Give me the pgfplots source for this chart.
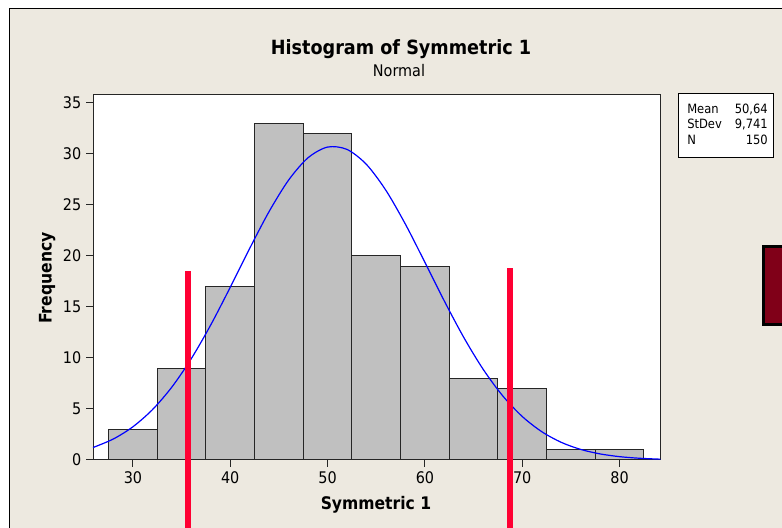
\documentclass[border=0pt]{standalone}
\usepackage{pgfplots}
\pgfplotsset{compat=1.18}
\usepackage{fontspec}
\setmainfont{DejaVu Sans Condensed}
\definecolor{bgbeige}{RGB}{237,233,224}
\definecolor{barfill}{RGB}{192,192,192}
\definecolor{redline}{RGB}{255,0,51}
\definecolor{darkred}{RGB}{128,0,24}
\begin{document}
\begin{tikzpicture}[x=0.75pt,y=0.75pt]
\useasboundingbox (0,0) rectangle (782,528);
\fill[white] (0,0) rectangle (782,528);
\fill[bgbeige] (9,0) rectangle (782,519);
\draw[line width=0.75pt] (9,-2) -- (9,519) -- (784,519);
\begin{axis}[
  at={(69.75pt,51pt)}, anchor=south west,
  scale only axis, width=425.6pt, height=273.75pt,
  xmin=25.9, xmax=84.2, ymin=0, ymax=35.75,
  xtick={30,40,50,60,70,80}, ytick={0,5,10,15,20,25,30,35},
  tick align=outside, xtick pos=bottom, ytick pos=left,
  major tick length=5.25pt,
  axis line style={line width=0.75pt, draw=black!85},
  every tick/.style={line width=0.75pt, black!85},
  axis background/.style={fill=white},
  clip=false,
  ticklabel style={font=\fontsize{12}{14}\selectfont},
  /pgf/number format/assume math mode=true,
]
\addplot[ybar interval, fill=barfill, draw=black!85, line width=0.75pt] coordinates {
(27.5,3) (32.5,9) (37.5,17) (42.5,33) (47.5,32) (52.5,20) (57.5,19) (62.5,8) (67.5,7) (72.5,1) (77.5,1) (82.5,1)};
\addplot[blue, line width=0.9pt, smooth, mark=none] coordinates {
(25.9,1.220) (28,2.062) (30,3.254) (32,4.923) (34,7.140) (36,9.928) (38,13.235) (40,16.916) (42,20.727) (44,24.348) (46,27.421) (48,29.608) (50,30.650) (52,30.418) (54,28.942) (56,26.401) (58,23.089) (60,19.359) (62,15.561) (64,11.992) (66,8.860) (68,6.276) (70,4.262) (72,2.775) (74,1.732) (76,1.037) (78,0.595) (80,0.327) (82,0.173) (84.2,0.080)};
\addplot[redline, line width=4.5pt, mark=none] coordinates {(35.63,18.5) (35.63,-6.8)};
\addplot[redline, line width=4.5pt, mark=none] coordinates {(68.76,18.8) (68.76,-6.8)};
\end{axis}
\node[anchor=base, font=\bfseries\fontsize{14.7}{17}\selectfont] at (401,473) {Histogram of Symmetric 1};
\node[anchor=base, font=\fontsize{12}{14}\selectfont] at (399,451.3) {Normal};
\node[anchor=base, font=\bfseries\fontsize{13}{15}\selectfont] at (376,18.7) {Symmetric 1};
\node[anchor=base, rotate=90, font=\bfseries\fontsize{13}{15}\selectfont] at (51.5,250) {Frequency};
\draw[line width=0.75pt, fill=white] (678.3,370.3) rectangle (773.3,434);
\begin{scope}[every node/.style={font=\fontsize{9.6}{11}\selectfont, inner sep=0pt}]
\node[anchor=base west] at (687,414.7) {Mean};
\node[anchor=base west] at (687,399) {StDev};
\node[anchor=base west] at (687,383) {N};
\node[anchor=base east] at (768,414.7) {50,64};
\node[anchor=base east] at (768,399) {9,741};
\node[anchor=base east] at (768,383) {150};
\end{scope}
\fill[black] (762.3,202) rectangle (785,283);
\fill[darkred] (765.3,205) rectangle (785,280);
\end{tikzpicture}
\end{document}
